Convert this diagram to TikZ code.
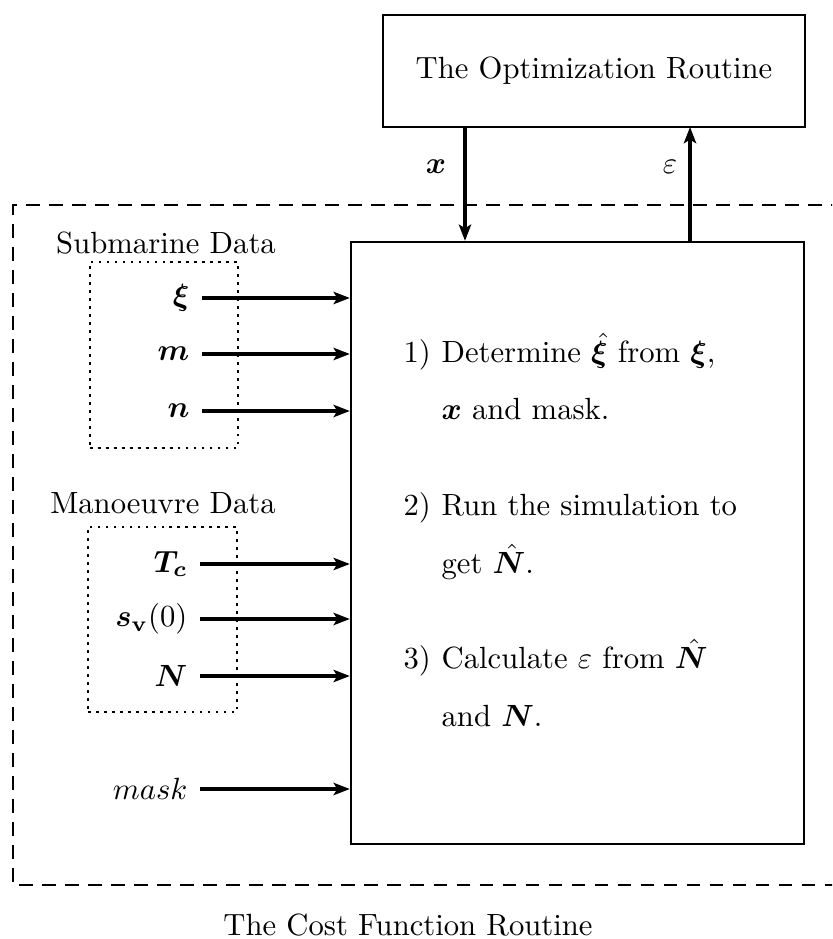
\documentclass[tikz,border=0pt]{standalone}
\usepackage{amsmath,bm}
\usetikzlibrary{arrows.meta,fit}
\begin{document}
\begin{tikzpicture}[x=0.326pt,y=-0.326pt,
  box/.style={draw,line width=0.75pt,inner sep=0pt},
  flow/.style={line width=1.3pt,-{Stealth[length=5.3pt,width=4pt,inset=1.2pt]}},
  dotbox/.style={draw,line width=0.9pt,dash pattern=on 0.9pt off 1.7pt,inner sep=0pt},
  frame/.style={line width=0.75pt,dash pattern=on 4.5pt off 3pt},
  inlabel/.style={anchor=east,inner sep=0pt},
  txt/.style={anchor=base west,inner sep=0pt}]
\useasboundingbox (0,0) rectangle (832,939);
\clip (0,0) rectangle (832,939);

% outer dashed frame of the cost function routine
\draw[frame] (845,205) -- (13,205) -- (13,885) -- (845,885);
\node[anchor=base,inner sep=0pt] (costlbl) at (408,935) {The Cost Function Routine};

% optimization routine
\node[box,fit={(383,15)(805,127)}] (opt) {};
\node at (opt.center) {The Optimization Routine};

% cost function block
\node[box,fit={(351,242)(804,844)}] (cost) {};

\coordinate (xtop) at (465,127);
\coordinate (etop) at (690,127);
\draw[flow] (xtop) -- (xtop |- cost.north);
\draw[flow] (etop |- cost.north) -- (etop);
\node[anchor=east] (xl) at (457,167) {$\bm{x}$};
\node[anchor=east] (el) at (688,167) {$\varepsilon$};

% submarine data group
\node (subl) at (166,243) {Submarine Data};
\node[dotbox,fit={(90,262)(238,448)}] (subbox) {};
\node[inlabel] (xi) at (190,298) {$\bm{\xi}$};
\node[inlabel] (mm) at (190,354) {$\bm{m}$};
\node[inlabel] (nn) at (190,411) {$\bm{n}$};
\draw[flow] ([xshift=4pt]xi.east) -- (xi.east -| cost.west);
\draw[flow] ([xshift=4pt]mm.east) -- (mm.east -| cost.west);
\draw[flow] ([xshift=4pt]nn.east) -- (nn.east -| cost.west);

% manoeuvre data group
\node (manl) at (163,503) {Manoeuvre Data};
\node[dotbox,fit={(88,527)(237,712)}] (manbox) {};
\node[inlabel] (tc) at (188,564) {$\bm{T_c}$};
\node[inlabel] (sv) at (188,619) {$\bm{s}_{\mathbf{v}}(0)$};
\node[inlabel] (nm) at (188,676) {$\bm{N}$};
\draw[flow] ([xshift=4pt]tc.east) -- (tc.east -| cost.west);
\draw[flow] ([xshift=4pt]sv.east) -- (sv.east -| cost.west);
\draw[flow] ([xshift=4pt]nm.east) -- (nm.east -| cost.west);

\node[inlabel] (mask) at (188,789) {$mask$};
\draw[flow] ([xshift=4pt]mask.east) -- (mask.east -| cost.west);

% steps inside the cost function block
\node[txt] (n1) at (403,363) {1)};
\node[txt] (s1a) at (441,363) {Determine $\hat{\bm{\xi}}$ from $\bm{\xi}$,};
\node[txt] (s1b) at (441,420) {$\bm{x}$ and mask.};
\node[txt] (n2) at (403,515) {2)};
\node[txt] (s2a) at (441,515) {Run the simulation to};
\node[txt] (s2b) at (441,573) {get $\hat{\bm{N}}$.};
\node[txt] (n3) at (403,668) {3)};
\node[txt] (s3a) at (441,668) {Calculate $\varepsilon$ from $\hat{\bm{N}}$};
\node[txt] (s3b) at (441,726) {and $\bm{N}$.};
\end{tikzpicture}
\end{document}
